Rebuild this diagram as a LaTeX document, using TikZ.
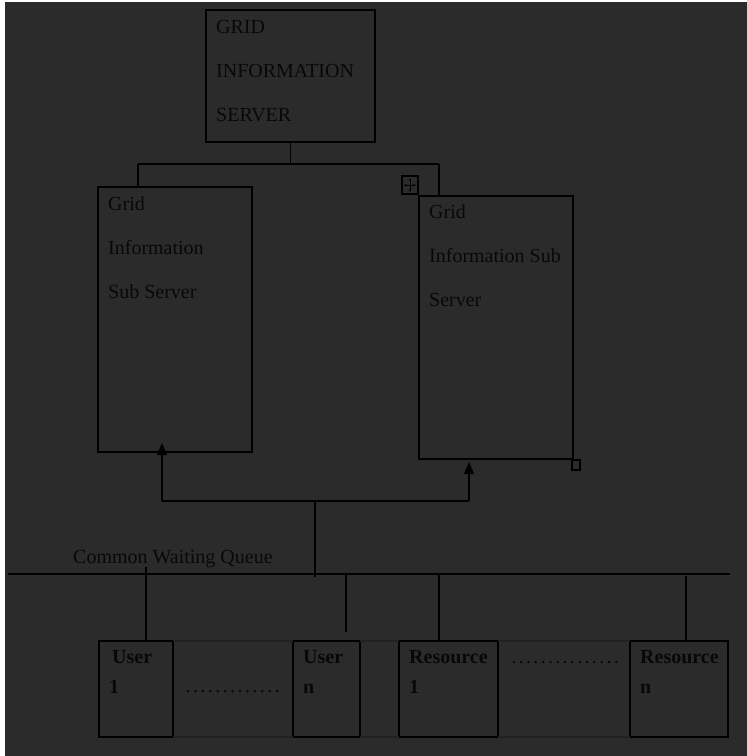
\documentclass[tikz,border=0pt]{standalone}
\usepackage{fontspec}
\setmainfont{Liberation Serif}
\usetikzlibrary{arrows.meta}
\definecolor{bgdark}{RGB}{43,43,43}
\definecolor{ink}{RGB}{8,8,8}
\definecolor{seamgray}{RGB}{33,33,33}
\newcommand{\dotrun}[1]{\hbox to #1{\xleaders\hbox to 7pt{\hss.\hss}\hfil}}

\begin{document}
\begin{tikzpicture}[x=1pt, y=-1pt,
    box/.style={draw=black, line width=1.1pt, anchor=north west,
        inner sep=0pt, outer sep=0pt},
    lbl/.style={anchor=north west, align=left, text=ink,
        font=\fontsize{20}{44}\selectfont,
        inner xsep=10pt, inner ysep=9pt},
    cell/.style={anchor=north west, align=left, text=ink,
        font=\fontsize{20}{30}\selectfont\bfseries,
        inner xsep=10pt, inner ysep=9pt},
    wire/.style={draw=black, line width=1.1pt},
    flow/.style={wire, -{Triangle[length=12pt,width=10pt]}},
    seam/.style={draw=seamgray, line width=1.1pt},
    plain/.style={text=ink, font=\fontsize{20}{24}\selectfont,
        inner sep=0pt, anchor=base west}
    ]
    % page and backdrop
    \fill[white] (0,0) rectangle (747,756);
    \fill[bgdark] (5,2) rectangle (747,756);
    \useasboundingbox (0,0) rectangle (747,756);

    % servers
    \node[box, minimum width=169pt, minimum height=132pt,
        label={[lbl, inner ysep=10pt]north west:GRID\\INFORMATION\\SERVER}] (gis) at (206,10) {};
    \node[box, minimum width=154pt, minimum height=265pt,
        label={[lbl]north west:Grid\\Information\\Sub Server}] (lsub) at (98,187) {};
    \node[box, minimum width=154pt, minimum height=263pt,
        label={[lbl, inner ysep=8pt]north west:Grid\\Information Sub\\Server}] (rsub) at (419,196) {};

    % table handles
    \node[box, minimum width=16pt, minimum height=18pt,
        path picture={
            \draw[line width=.6pt, {Stealth[length=3pt]}-{Stealth[length=3pt]}]
                ([xshift=2pt]path picture bounding box.west) -- ([xshift=-2pt]path picture bounding box.east);
            \draw[line width=.6pt, {Stealth[length=3pt]}-{Stealth[length=3pt]}]
                ([yshift=-2pt]path picture bounding box.north) -- ([yshift=2pt]path picture bounding box.south);
        }] (move) at (402,176) {};
    \node[box, minimum width=8pt, minimum height=10pt] (grip) at (572,460) {};

    % tree from the main server
    \coordinate (tl) at (138,164);
    \coordinate (tr) at (439,164);
    \draw[wire] (gis.south) -- (gis.south |- tl);
    \draw[wire] (tl) -- (tr);
    \draw[wire] (tl) -- (tl |- lsub.north);
    \draw[wire] (tr) -- (tr |- rsub.north);

    % requests up to the sub servers
    \coordinate (al) at (162,501);
    \coordinate (ar) at (469,501);
    \coordinate (am) at (315,501);
    \draw[wire] (al) -- (ar);
    \draw[flow] (al) -- ([yshift=9pt]al |- lsub.south);
    \draw[flow] (ar) -- ([yshift=-3pt]ar |- rsub.south);

    % common queue
    \coordinate (ql) at (8,574);
    \coordinate (qr) at (730,574);
    \draw[wire] (ql) -- (qr);
    \draw[wire] (am) -- ([yshift=-3pt]am |- ql);
    \node[plain] (cwq) at (73,563) {Common Waiting Queue};

    % users and resources
    \node[box, minimum width=74pt, minimum height=96pt,
        label={[cell]north west:\hspace*{3pt}User\\1}] (u1) at (99,641) {};
    \node[box, minimum width=67pt, minimum height=96pt,
        label={[cell]north west:User\\n}] (un) at (293,641) {};
    \node[box, minimum width=99pt, minimum height=96pt,
        label={[cell]north west:Resource\\1}] (r1) at (399,641) {};
    \node[box, minimum width=98pt, minimum height=96pt,
        label={[cell]north west:Resource\\n}] (rn) at (630,641) {};
    \foreach \a/\b in {u1/un, un/r1, r1/rn} {
        \draw[seam] (\a.north east) -- (\b.north west);
        \draw[seam] (\a.south east) -- (\b.south west);
    }
    \node[plain] (udots) at (184,692) {\dotrun{97pt}};
    \node[plain] (rdots) at (510,663) {\dotrun{110pt}};

    % drops from the queue
    \coordinate (d1) at (146,567);
    \coordinate (d2) at (346,574);
    \coordinate (d3) at (439,574);
    \coordinate (d4) at (686,576);
    \draw[wire] (d1) -- (d1 |- u1.north);
    \draw[wire] (d2) -- ([yshift=9pt]d2 |- un.north);
    \draw[wire] (d3) -- (d3 |- r1.north);
    \draw[wire] (d4) -- (d4 |- rn.north);
\end{tikzpicture}
\end{document}
